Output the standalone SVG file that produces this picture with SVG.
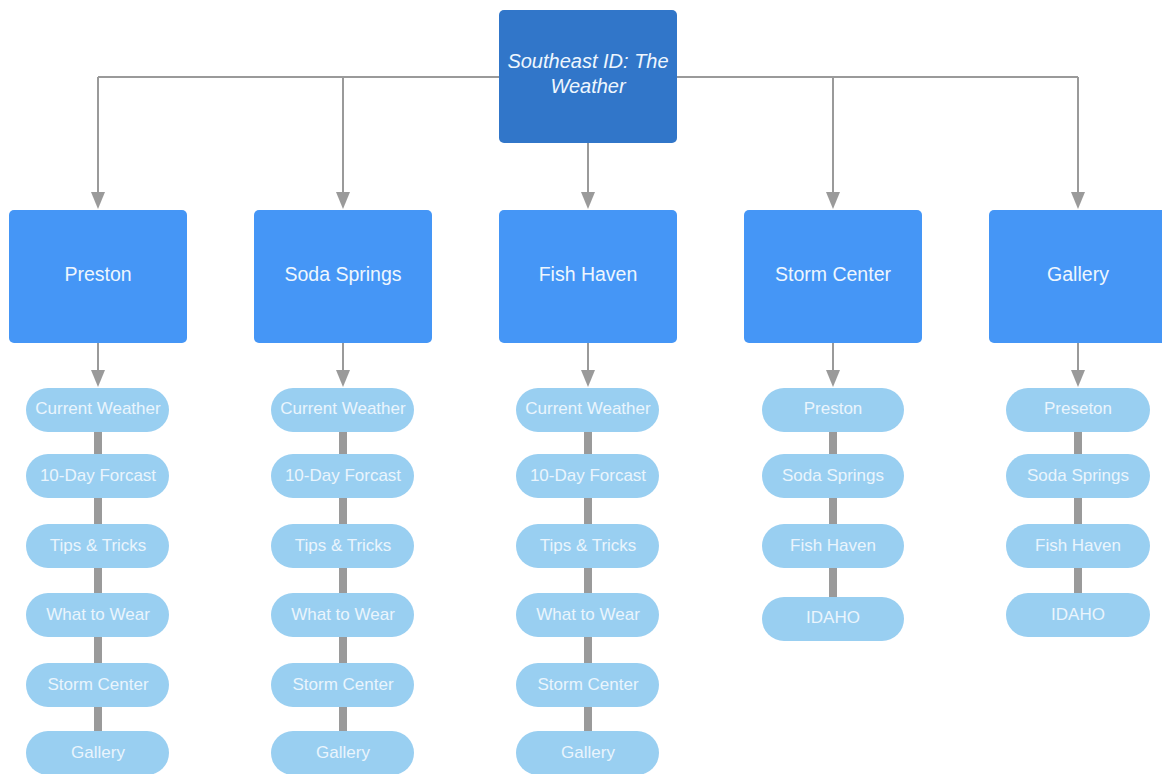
<svg xmlns="http://www.w3.org/2000/svg" width="1162" height="774" viewBox="0 0 1162 774">
<style>
.top{fill:#3176c9}
.box{fill:#4596f6}
.pill{fill:#99cff1}
.t{font-family:"Liberation Sans",Arial,sans-serif;fill:#eef6fe;text-anchor:middle;dominant-baseline:central}
.bt{font-size:19.5px}
.tt{font-size:20px;font-style:italic}
.pt{font-size:17px;fill:#eaf5fd}
.ln{stroke:#9a9a9a;stroke-width:2;fill:none}
.bar{stroke:#9a9a9a;stroke-width:8;fill:none}
.ah{fill:#9a9a9a}
</style>
<rect width="1162" height="774" fill="#ffffff"/>
<g id="connectors">
<path class="ln" d="M98,77 H1078"/>
<path class="ln" d="M98,77 V194"/><path class="ah" d="M91,192 L105,192 L98,209 Z"/>
<path class="ln" d="M343,77 V194"/><path class="ah" d="M336,192 L350,192 L343,209 Z"/>
<path class="ln" d="M588,143 V194"/><path class="ah" d="M581,192 L595,192 L588,209 Z"/>
<path class="ln" d="M833,77 V194"/><path class="ah" d="M826,192 L840,192 L833,209 Z"/>
<path class="ln" d="M1078,77 V194"/><path class="ah" d="M1071,192 L1085,192 L1078,209 Z"/>
<path class="ln" d="M98,343 V372"/><path class="ah" d="M91,370 L105,370 L98,387 Z"/>
<path class="ln" d="M343,343 V372"/><path class="ah" d="M336,370 L350,370 L343,387 Z"/>
<path class="ln" d="M588,343 V372"/><path class="ah" d="M581,370 L595,370 L588,387 Z"/>
<path class="ln" d="M833,343 V372"/><path class="ah" d="M826,370 L840,370 L833,387 Z"/>
<path class="ln" d="M1078,343 V372"/><path class="ah" d="M1071,370 L1085,370 L1078,387 Z"/>
<path class="bar" d="M98,430 V735"/>
<path class="bar" d="M343,430 V735"/>
<path class="bar" d="M588,430 V735"/>
<path class="bar" d="M833,430 V600"/>
<path class="bar" d="M1078,430 V597"/>
</g>
<g id="root"><rect class="top" x="499" y="10" width="178" height="133" rx="5"/>
<text class="t tt" x="588" y="61">Southeast ID: The</text>
<text class="t tt" x="588" y="86">Weather</text></g>
<g id="preston"><rect class="box" x="9" y="210" width="178" height="133" rx="5"/><text class="t bt" x="98" y="274">Preston</text></g>
<g id="soda-springs"><rect class="box" x="254" y="210" width="178" height="133" rx="5"/><text class="t bt" x="343" y="274">Soda Springs</text></g>
<g id="fish-haven"><rect class="box" x="499" y="210" width="178" height="133" rx="5"/><text class="t bt" x="588" y="274">Fish Haven</text></g>
<g id="storm-center"><rect class="box" x="744" y="210" width="178" height="133" rx="5"/><text class="t bt" x="833" y="274">Storm Center</text></g>
<g id="gallery"><rect class="box" x="989" y="210" width="178" height="133" rx="5"/><text class="t bt" x="1078" y="274">Gallery</text></g>

<g id="p1"><rect class="pill" x="26" y="388" width="143" height="44" rx="22"/><text class="t pt" x="98" y="408">Current Weather</text></g>
<g id="p2"><rect class="pill" x="26" y="454" width="143" height="44" rx="22"/><text class="t pt" x="98" y="475">10-Day Forcast</text></g>
<g id="p3"><rect class="pill" x="26" y="524" width="143" height="44" rx="22"/><text class="t pt" x="98" y="545">Tips &amp; Tricks</text></g>
<g id="p4"><rect class="pill" x="26" y="593" width="143" height="44" rx="22"/><text class="t pt" x="98" y="614">What to Wear</text></g>
<g id="p5"><rect class="pill" x="26" y="663" width="143" height="44" rx="22"/><text class="t pt" x="98" y="684">Storm Center</text></g>
<g id="p6"><rect class="pill" x="26" y="731" width="143" height="44" rx="22"/><text class="t pt" x="98" y="752">Gallery</text></g>

<g id="s1"><rect class="pill" x="271" y="388" width="143" height="44" rx="22"/><text class="t pt" x="343" y="408">Current Weather</text></g>
<g id="s2"><rect class="pill" x="271" y="454" width="143" height="44" rx="22"/><text class="t pt" x="343" y="475">10-Day Forcast</text></g>
<g id="s3"><rect class="pill" x="271" y="524" width="143" height="44" rx="22"/><text class="t pt" x="343" y="545">Tips &amp; Tricks</text></g>
<g id="s4"><rect class="pill" x="271" y="593" width="143" height="44" rx="22"/><text class="t pt" x="343" y="614">What to Wear</text></g>
<g id="s5"><rect class="pill" x="271" y="663" width="143" height="44" rx="22"/><text class="t pt" x="343" y="684">Storm Center</text></g>
<g id="s6"><rect class="pill" x="271" y="731" width="143" height="44" rx="22"/><text class="t pt" x="343" y="752">Gallery</text></g>

<g id="f1"><rect class="pill" x="516" y="388" width="143" height="44" rx="22"/><text class="t pt" x="588" y="408">Current Weather</text></g>
<g id="f2"><rect class="pill" x="516" y="454" width="143" height="44" rx="22"/><text class="t pt" x="588" y="475">10-Day Forcast</text></g>
<g id="f3"><rect class="pill" x="516" y="524" width="143" height="44" rx="22"/><text class="t pt" x="588" y="545">Tips &amp; Tricks</text></g>
<g id="f4"><rect class="pill" x="516" y="593" width="143" height="44" rx="22"/><text class="t pt" x="588" y="614">What to Wear</text></g>
<g id="f5"><rect class="pill" x="516" y="663" width="143" height="44" rx="22"/><text class="t pt" x="588" y="684">Storm Center</text></g>
<g id="f6"><rect class="pill" x="516" y="731" width="143" height="44" rx="22"/><text class="t pt" x="588" y="752">Gallery</text></g>

<g id="c1"><rect class="pill" x="762" y="388" width="142" height="44" rx="22"/><text class="t pt" x="833" y="408">Preston</text></g>
<g id="c2"><rect class="pill" x="762" y="454" width="142" height="44" rx="22"/><text class="t pt" x="833" y="475">Soda Springs</text></g>
<g id="c3"><rect class="pill" x="762" y="524" width="142" height="44" rx="22"/><text class="t pt" x="833" y="545">Fish Haven</text></g>
<g id="c4"><rect class="pill" x="762" y="597" width="142" height="44" rx="22"/><text class="t pt" x="833" y="617">IDAHO</text></g>

<g id="g1"><rect class="pill" x="1006" y="388" width="144" height="44" rx="22"/><text class="t pt" x="1078" y="408">Preseton</text></g>
<g id="g2"><rect class="pill" x="1006" y="454" width="144" height="44" rx="22"/><text class="t pt" x="1078" y="475">Soda Springs</text></g>
<g id="g3"><rect class="pill" x="1006" y="524" width="144" height="44" rx="22"/><text class="t pt" x="1078" y="545">Fish Haven</text></g>
<g id="g4"><rect class="pill" x="1006" y="593" width="144" height="44" rx="22"/><text class="t pt" x="1078" y="614">IDAHO</text></g>
</svg>
